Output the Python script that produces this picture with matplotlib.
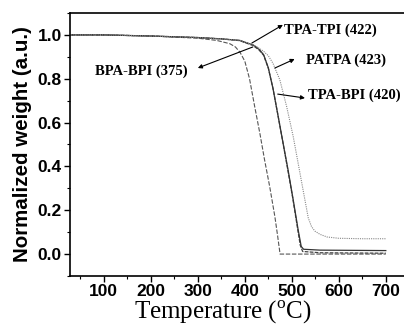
import matplotlib
matplotlib.use("Agg")
import matplotlib.pyplot as plt
from matplotlib.ticker import MultipleLocator

plt.rcParams["mathtext.fontset"] = "custom"
plt.rcParams["mathtext.rm"] = "Liberation Serif"

# TGA curves (temperature in C, normalized weight)
bpa_bpi_t = [30, 100, 200, 300, 340, 368, 380, 390, 400, 410, 421, 432, 442, 453, 464, 470, 475, 700]
bpa_bpi_w = [1.0, 1.0, 0.995, 0.985, 0.975, 0.96, 0.945, 0.92, 0.88, 0.80, 0.673, 0.551, 0.43, 0.307, 0.17, 0.08, 0.0, 0.0]

tpa_tpi_t = [30, 100, 200, 300, 350, 389, 418, 430, 440, 450, 460, 471, 481.5, 492, 503, 513.5, 520, 525, 560, 700]
tpa_tpi_w = [1.0, 1.0, 0.995, 0.988, 0.982, 0.975, 0.954, 0.935, 0.91, 0.85, 0.755, 0.627, 0.505, 0.384, 0.247, 0.11, 0.035, 0.022, 0.018, 0.016]

tpa_bpi_t = [30, 100, 200, 300, 350, 389, 417, 430, 440, 450, 460, 470, 481, 491, 502, 512, 518, 523, 560, 700]
tpa_bpi_w = [1.0, 1.0, 0.995, 0.988, 0.982, 0.974, 0.952, 0.932, 0.907, 0.848, 0.755, 0.64, 0.51, 0.39, 0.255, 0.12, 0.04, 0.012, 0.006, 0.004]

patpa_t = [30, 100, 200, 300, 350, 390, 423, 440, 450, 460, 474.5, 489, 503, 513.5, 524, 535, 542, 549, 560, 575, 600, 650, 700]
patpa_w = [1.0, 1.0, 0.995, 0.988, 0.982, 0.975, 0.95, 0.925, 0.905, 0.87, 0.795, 0.673, 0.536, 0.414, 0.292, 0.165, 0.125, 0.105, 0.09, 0.078, 0.072, 0.07, 0.07]

# label text, text position, arrow tail (on curve), arrow tip (near label)
labels = ["TPA-TPI (422)", "PATPA (423)", "TPA-BPI (420)", "BPA-BPI (375)"]
label_xy = [(583, 1.023), (615, 0.886), (634, 0.726), (179, 0.836)]
arrow_tail = [(415, 0.963), (464, 0.849), (470, 0.73), (417, 0.945)]
arrow_tip = [(481, 1.046), (506, 0.89), (528, 0.712), (300, 0.849)]

fig = plt.figure(figsize=(4.04, 3.26), dpi=100)
ax = fig.add_axes([0.1733, 0.1534, 0.834, 0.8067])

ax.plot(bpa_bpi_t, bpa_bpi_w, color="#555555", lw=0.8, ls=(0, (4, 1.5)))
ax.plot(tpa_bpi_t, tpa_bpi_w, color="#444444", lw=0.9, ls=(0, (3, 1)))
ax.plot(tpa_tpi_t, tpa_tpi_w, color="#333333", lw=0.9)
ax.plot(patpa_t, patpa_w, color="#888888", lw=0.8, ls=(0, (1, 1)))

for lab, txy, tail, tip in zip(labels, label_xy, arrow_tail, arrow_tip):
    ax.text(txy[0], txy[1], lab, ha="center", va="center", fontsize=10.5,
            fontweight="bold", family="Liberation Serif")
    ax.annotate("", xy=tip, xytext=tail,
                arrowprops=dict(arrowstyle="-|>", lw=0.8, color="black",
                                mutation_scale=6, shrinkA=0, shrinkB=0))

ax.set_xlim(28, 745)
ax.set_ylim(-0.1, 1.1)
ax.set_xticks([100, 200, 300, 400, 500, 600, 700])
ax.set_yticks([0.0, 0.2, 0.4, 0.6, 0.8, 1.0])
ax.xaxis.set_minor_locator(MultipleLocator(50))
ax.yaxis.set_minor_locator(MultipleLocator(0.1))
ax.tick_params(which="major", direction="out", length=4, width=1.0, pad=2)
ax.tick_params(which="minor", direction="out", length=2.5, width=0.8)
ax.tick_params(top=False, right=False, which="both")
for lbl in ax.get_xticklabels() + ax.get_yticklabels():
    lbl.set_fontfamily("Liberation Sans")
    lbl.set_fontweight("bold")
    lbl.set_fontsize(12.5)
for sp in ax.spines.values():
    sp.set_linewidth(1.2)

ax.set_ylabel("Normalized weight (a.u.)", fontsize=14.8, fontweight="bold",
              family="Liberation Sans", va="center")
ax.yaxis.set_label_coords(-0.142, 0.502)
ax.set_xlabel(r"Temperature ($^{\rm o}$C)", fontsize=18, family="Liberation Serif",
              va="center")
ax.xaxis.set_label_coords(0.4525, -0.137)

fig.savefig("out.png", dpi=100)
